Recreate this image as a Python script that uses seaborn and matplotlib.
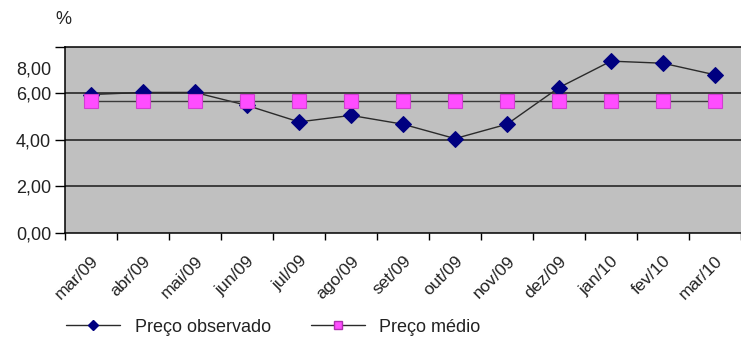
import matplotlib
matplotlib.use("Agg")
import matplotlib.pyplot as plt
import matplotlib.transforms as mtransforms
from matplotlib.lines import Line2D
import seaborn as sns
import pandas as pd

months = ["mar/09", "abr/09", "mai/09", "jun/09", "jul/09", "ago/09", "set/09",
          "out/09", "nov/09", "dez/09", "jan/10", "fev/10", "mar/10"]
preco_observado = [5.95, 6.04, 6.04, 5.48, 4.77, 5.05, 4.67, 4.05, 4.67, 6.25, 7.39, 7.30, 6.80]
preco_medio = [5.67] * 13
y_ticks = [0, 2, 4, 6, 8]
y_tick_labels = ["0,00", "2,00", "4,00", "6,00", "8,00"]

df = pd.DataFrame({"pos": range(len(months)), "mes": months,
                   "observado": preco_observado, "medio": preco_medio})

sns.set_style("white")
plt.rcParams["font.family"] = ["Liberation Sans", "DejaVu Sans"]

fig = plt.figure(figsize=(7.41, 3.43), dpi=100)
ax = fig.add_axes([65 / 741, 1 - 232.5 / 343, 676 / 741, (232.5 - 47) / 343])
ax.set_facecolor("#c0c0c0")

for yv in [2, 4, 6]:
    ax.axhline(yv, color="#1a1a1a", lw=1.1, zorder=1)

sns.lineplot(data=df, x="pos", y="observado", ax=ax, color="#2a2a2a", lw=1.0,
             marker="D", markersize=8.5, markerfacecolor="#000080",
             markeredgecolor="#000080", zorder=3)
sns.lineplot(data=df, x="pos", y="medio", ax=ax, color="#3a3a3a", lw=1.0,
             marker="s", markersize=9.5, markerfacecolor="#ff4dff",
             markeredgecolor="#d040d0", markeredgewidth=0.8, zorder=4)

ax.set_xlim(-0.5, 12.35)
ax.set_ylim(0, 8)
ax.set_xlabel("")
ax.set_ylabel("")

# category labels at centres, tick marks at category boundaries
ax.set_xticks(range(len(months)))
ax.set_xticklabels(months, rotation=45, ha="right", rotation_mode="anchor",
                   fontsize=12.5, color="#222222")
ax.set_xticks([i - 0.5 for i in range(len(months) + 1)], minor=True)
ax.tick_params(axis="x", which="major", length=0, pad=15)
ax.tick_params(axis="x", which="minor", length=5, width=1, color="black",
               direction="out", bottom=True)

ax.set_yticks(y_ticks)
ax.set_yticklabels(y_tick_labels, fontsize=13, color="#222222")
ax.tick_params(axis="y", length=7, width=1, color="black", direction="out",
               left=True, pad=3)
# the top label sits a little below its tick
top_label = ax.get_yticklabels()[-1]
top_label.set_transform(top_label.get_transform() +
                        mtransforms.ScaledTranslation(0, -21 / 100, fig.dpi_scale_trans))

for side in ["left", "bottom", "top"]:
    ax.spines[side].set_visible(True)
    ax.spines[side].set_color("black")
    ax.spines[side].set_linewidth(1.1)
ax.spines["right"].set_visible(False)

if ax.get_legend() is not None:
    ax.get_legend().remove()

fig.text(55 / 741, 1 - 20 / 343, "%", fontsize=13, color="#222222", va="center")

handles = [
    Line2D([], [], color="#2a2a2a", lw=1.0, marker="D", markersize=5.5,
           markerfacecolor="#000080", markeredgecolor="#000080"),
    Line2D([], [], color="#2a2a2a", lw=1.0, marker="s", markersize=6,
           markerfacecolor="#ff4dff", markeredgecolor="#b030b0"),
]
fig.legend(handles, ["Preço observado", "Preço médio"], loc="center left",
           bbox_to_anchor=(50 / 741, 1 - 327 / 343), ncol=2, frameon=False,
           fontsize=13, handlelength=3.0, handletextpad=0.8, columnspacing=2.2,
           labelcolor="#222222")

fig.savefig("out.png", dpi=100)
